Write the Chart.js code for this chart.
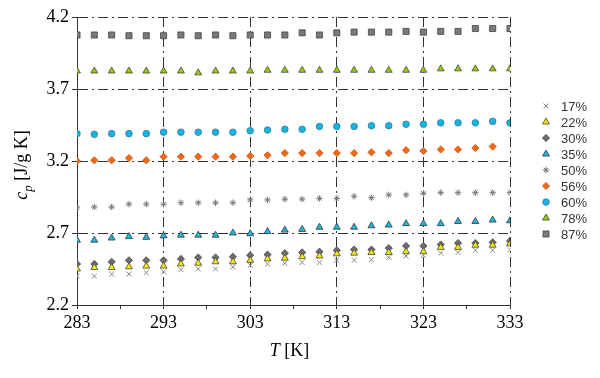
<!DOCTYPE html>
<html><head><meta charset="utf-8">
<script src="https://cdn.jsdelivr.net/npm/chart.js@4.4.1/dist/chart.umd.min.js"></script>
<style>html,body{margin:0;padding:0;background:#fff;}#wrap{width:600px;height:378px;position:relative;}</style>
</head><body><div id="wrap"><canvas id="c" width="600" height="378"></canvas></div>
<script>
const temperatures = [283,285,287,289,291,293,295,297,299,301,303,305,307,309,311,313,315,317,319,321,323,325,327,329,331,333];
const seriesLabels = ['17%','22%','30%','35%','50%','56%','60%','78%','87%'];
const s17 = [2.40,2.40,2.415,2.415,2.425,2.43,2.445,2.45,2.45,2.465,2.475,2.485,2.49,2.495,2.495,2.51,2.51,2.515,2.53,2.54,2.545,2.56,2.565,2.58,2.58,2.585];
const s22 = [2.45,2.46,2.46,2.465,2.47,2.47,2.485,2.49,2.50,2.50,2.51,2.52,2.525,2.535,2.54,2.555,2.56,2.565,2.565,2.57,2.57,2.60,2.60,2.615,2.615,2.625];
const s30 = [2.485,2.485,2.50,2.51,2.51,2.51,2.52,2.53,2.53,2.535,2.545,2.55,2.56,2.565,2.57,2.58,2.585,2.585,2.595,2.61,2.61,2.62,2.63,2.63,2.635,2.645];
const s35 = [2.65,2.65,2.665,2.675,2.67,2.68,2.685,2.685,2.685,2.70,2.695,2.71,2.72,2.725,2.74,2.74,2.74,2.75,2.755,2.765,2.765,2.765,2.78,2.78,2.79,2.785];
const s50 = [2.875,2.88,2.88,2.90,2.90,2.90,2.91,2.91,2.91,2.91,2.93,2.93,2.935,2.935,2.94,2.94,2.955,2.945,2.965,2.965,2.975,2.98,2.98,2.98,2.98,2.98];
const s56 = [3.20,3.205,3.205,3.22,3.205,3.23,3.23,3.23,3.23,3.23,3.235,3.24,3.255,3.255,3.255,3.255,3.255,3.26,3.255,3.275,3.27,3.28,3.28,3.29,3.30,null];
const s60 = [3.39,3.385,3.39,3.39,3.39,3.40,3.40,3.40,3.40,3.40,3.41,3.415,3.42,3.42,3.44,3.44,3.44,3.445,3.445,3.455,3.455,3.465,3.465,3.465,3.475,3.465];
const s78 = [3.825,3.825,3.825,3.825,3.825,3.825,3.825,3.812,3.825,3.825,3.825,3.83,3.83,3.83,3.83,3.83,3.83,3.83,3.83,3.83,3.83,3.84,3.84,3.84,3.84,3.84];
const s87 = [4.075,4.075,4.075,4.07,4.07,4.07,4.075,4.07,4.075,4.07,4.075,4.075,4.075,4.09,4.075,4.09,4.095,4.095,4.095,4.10,4.095,4.10,4.10,4.12,4.12,4.12];
const xMajorTicks = [283,293,303,313,323,333];
const yTicks = [2.2,2.7,3.2,3.7,4.2];

const allSeries = [s17,s22,s30,s35,s50,s56,s60,s78,s87];
const styles = [
  {pointStyle:'crossRot', radius:3.5, bg:'#888', border:'#888', bw:1},
  {pointStyle:'triangle', radius:4, bg:'#f5ea00', border:'#444', bw:0.8},
  {pointStyle:'rectRot', radius:3.6, bg:'#6e6e6e', border:'#444', bw:0.8},
  {pointStyle:'triangle', radius:4, bg:'#1cb8e3', border:'#333', bw:0.8},
  {pointStyle:'star', radius:3.2, bg:'#777', border:'#777', bw:1},
  {pointStyle:'rectRot', radius:3.6, bg:'#f46a14', border:'#c85010', bw:0.8},
  {pointStyle:'circle', radius:3.3, bg:'#12b5e6', border:'#3a7a90', bw:0.8},
  {pointStyle:'triangle', radius:4, bg:'#9acb00', border:'#444', bw:0.8},
  {pointStyle:'rect', radius:4.3, bg:'#7a7a7a', border:'#444', bw:0.8}
];

const datasets = allSeries.map((s, i) => ({
  label: seriesLabels[i],
  data: temperatures.map((t, k) => ({x: t, y: s[k]})).filter(p => p.y !== null),
  showLine: false,
  pointStyle: styles[i].pointStyle,
  pointRadius: styles[i].radius,
  pointBackgroundColor: styles[i].bg,
  pointBorderColor: styles[i].border,
  pointBorderWidth: styles[i].bw,
  pointHoverRadius: styles[i].radius
}));

const DASH = [10,4,2,4];
const titlesAndLegend = {
  id: 'titlesAndLegend',
  afterDraw(chart) {
    const ctx = chart.ctx;
    ctx.save();
    // x title: T [K]
    ctx.fillStyle = '#000';
    ctx.textBaseline = 'alphabetic';
    const xs = chart.chartArea;
    const cx = (xs.left + xs.right) / 2 - 4;
    ctx.font = 'italic 18px "Liberation Serif"';
    const wT = ctx.measureText('T').width;
    ctx.font = '18px "Liberation Serif"';
    const wR = ctx.measureText(' [K]').width;
    let x0 = cx - (wT + wR) / 2;
    ctx.font = 'italic 18px "Liberation Serif"';
    ctx.fillText('T', x0, 356);
    ctx.font = '18px "Liberation Serif"';
    ctx.fillText(' [K]', x0 + wT, 356);
    // y title: c_p [J/g K]
    ctx.translate(27, 165);
    ctx.rotate(-Math.PI / 2);
    ctx.font = 'italic 18px "Liberation Serif"';
    const wc = ctx.measureText('c').width;
    ctx.font = 'italic 13px "Liberation Serif"';
    const wp = ctx.measureText('p').width;
    ctx.font = '18px "Liberation Serif"';
    const wu = ctx.measureText(' [J/g K]').width;
    let y0 = -(wc + wp + wu) / 2;
    ctx.font = 'italic 18px "Liberation Serif"';
    ctx.fillText('c', y0, 0);
    ctx.font = 'italic 13px "Liberation Serif"';
    ctx.fillText('p', y0 + wc, 5);
    ctx.font = '18px "Liberation Serif"';
    ctx.fillText(' [J/g K]', y0 + wc + wp, 0);
    ctx.restore();
    // legend
    ctx.save();
    chart.data.datasets.forEach((ds, i) => {
      const y = 106 + 16 * i;
      const opts = {pointStyle: ds.pointStyle, radius: ds.pointRadius, rotation: 0, borderWidth: ds.pointBorderWidth};
      ctx.fillStyle = ds.pointBackgroundColor;
      ctx.strokeStyle = ds.pointBorderColor;
      ctx.lineWidth = ds.pointBorderWidth;
      Chart.helpers.drawPoint(ctx, opts, 546, y);
      ctx.fillStyle = '#333';
      ctx.font = '13px "Liberation Sans"';
      ctx.textBaseline = 'middle';
      ctx.textAlign = 'left';
      ctx.fillText(ds.label, 561, y + 1);
    });
    ctx.restore();
  }
};

new Chart(document.getElementById('c'), {
  type: 'scatter',
  data: {datasets},
  options: {
    responsive: false,
    animation: false,
    devicePixelRatio: 1,
    layout: {padding: {left: 0, right: 90, top: 17, bottom: 0}},
    plugins: {legend: {display: false}, tooltip: {enabled: false}},
    scales: {
      x: {
        type: 'linear', min: 283, max: 333,
        afterFit(scale) { scale.height = 73; },
        ticks: {
          stepSize: 5, autoSkip: false, maxRotation: 0, padding: 3,
          color: '#000', font: {family: 'Liberation Serif', size: 18},
          callback: v => xMajorTicks.includes(v) ? String(v) : ''
        },
        grid: {
          color: c => (c.tick && xMajorTicks.includes(c.tick.value) && c.tick.value !== 283) ? '#333' : 'rgba(0,0,0,0)',
          tickColor: '#333', tickLength: 4, lineWidth: 1
        },
        border: {display: true, color: '#333', width: 1, dash: DASH}
      },
      y: {
        type: 'linear', min: 2.2, max: 4.2,
        afterFit(scale) { scale.width = 77; },
        afterBuildTicks(scale) { scale.ticks = yTicks.map(v => ({value: v})); },
        ticks: {
          padding: 3, color: '#000', font: {family: 'Liberation Serif', size: 18},
          callback: v => Number(v).toFixed(1)
        },
        grid: {
          color: c => (c.tick && c.tick.value > 2.21) ? '#333' : 'rgba(0,0,0,0)',
          tickColor: '#333', tickLength: 5, lineWidth: 1
        },
        border: {display: true, color: '#333', width: 1, dash: DASH}
      }
    }
  },
  plugins: [titlesAndLegend]
});
</script>
</body></html>
